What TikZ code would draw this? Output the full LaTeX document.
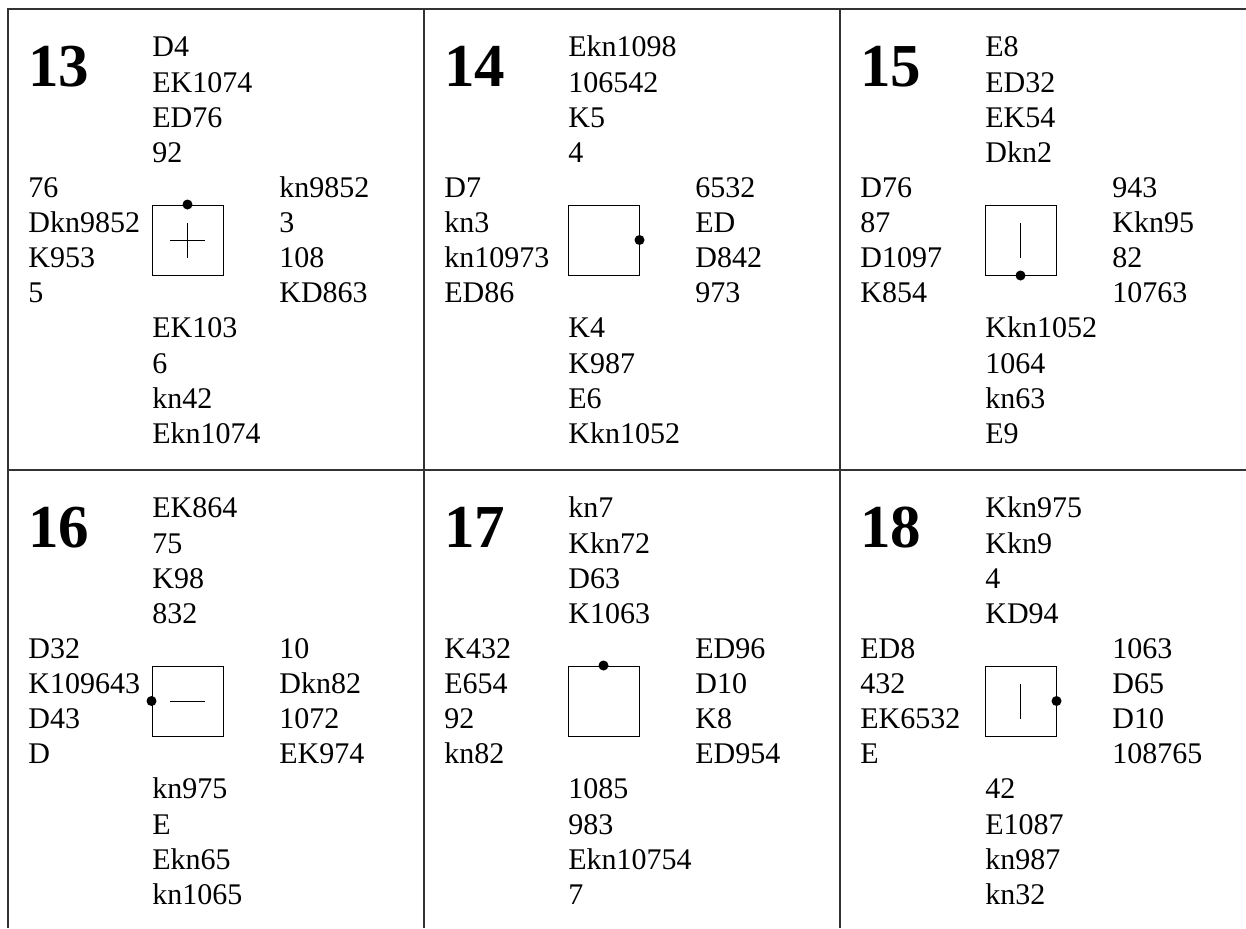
\documentclass[tikz,border=0pt]{standalone}
\usepackage{fontspec}
\setmainfont{Liberation Serif}
\usetikzlibrary{positioning}
\newcommand{\hand}[1]{\begin{tabular}[t]{@{}l@{}}#1\end{tabular}}

\tikzset{
  cards/.style={anchor=base west,inner sep=0pt,font=\fontsize{15pt}{17.65pt}\selectfont},
  dealno/.style={anchor=base west,inner sep=0pt,font=\fontsize{30.5pt}{36pt}\selectfont\bfseries},
  tablebox/.style={draw,line width=0.5pt,minimum width=35.5pt,minimum height=35pt,inner sep=0pt},
  seatdot/.style={circle,fill,inner sep=0pt,minimum size=5pt},
  gridline/.style={line width=0.6pt,black!80},
  trickline/.style={line width=0.5pt}
}

\begin{document}
\begin{tikzpicture}[x=0.5pt,y=-0.5pt]
        \useasboundingbox (0,0) rectangle (1246,928);
        % cell corners
        \coordinate (C13) at (8,9);
        \coordinate (C14) at (424,9);
        \coordinate (C15) at (840,9);
        \coordinate (C16) at (8,470);
        \coordinate (C17) at (424,470);
        \coordinate (C18) at (840,470);
        \draw[gridline] (8,928) -- (C13) -- (1246,9);
        \draw[gridline] (C16) -- (1246,470);
        \draw[gridline] (C14) -- (424,928);
        \draw[gridline] (C15) -- (840,928);

        % 13
        \node[dealno] (D13) at ([shift={+(20,77)}]C13) {13};
        \node[cards] (N13) at ([shift={+(144,47.7)}]C13) {\hand{D4\\EK1074\\ED76\\92}};
        \node[cards] (W13) at ([shift={+(20,188)}]C13) {\hand{76\\Dkn9852\\K953\\5}};
        \node[cards] (E13) at ([shift={+(271,188)}]C13) {\hand{kn9852\\3\\108\\KD863}};
        \node[cards] (S13) at ([shift={+(144,328.7)}]C13) {\hand{EK103\\6\\kn42\\Ekn1074}};
        \node[tablebox] (T13) at ([shift={+(179.5,231)}]C13) {};
        \node[seatdot] (P13) at (T13.north) {};
        \draw[trickline] ([xshift=-8.75pt]T13.center) -- ([xshift=8.75pt]T13.center);
        \draw[trickline] ([yshift=-8.75pt]T13.center) -- ([yshift=8.75pt]T13.center);

        % 14
        \node[dealno] (D14) at ([shift={+(20,77)}]C14) {14};
        \node[cards] (N14) at ([shift={+(144,47.7)}]C14) {\hand{Ekn1098\\106542\\K5\\4}};
        \node[cards] (W14) at ([shift={+(20,188)}]C14) {\hand{D7\\kn3\\kn10973\\ED86}};
        \node[cards] (E14) at ([shift={+(271,188)}]C14) {\hand{6532\\ED\\D842\\973}};
        \node[cards] (S14) at ([shift={+(144,328.7)}]C14) {\hand{K4\\K987\\E6\\Kkn1052}};
        \node[tablebox] (T14) at ([shift={+(179.5,231)}]C14) {};
        \node[seatdot] (P14) at (T14.east) {};

        % 15
        \node[dealno] (D15) at ([shift={+(20,77)}]C15) {15};
        \node[cards] (N15) at ([shift={+(145,47.7)}]C15) {\hand{E8\\ED32\\EK54\\Dkn2}};
        \node[cards] (W15) at ([shift={+(20,188)}]C15) {\hand{D76\\87\\D1097\\K854}};
        \node[cards] (E15) at ([shift={+(272,188)}]C15) {\hand{943\\Kkn95\\82\\10763}};
        \node[cards] (S15) at ([shift={+(145,328.7)}]C15) {\hand{Kkn1052\\1064\\kn63\\E9}};
        \node[tablebox] (T15) at ([shift={+(180.5,231)}]C15) {};
        \node[seatdot] (P15) at (T15.south) {};
        \draw[trickline] ([yshift=-8.75pt]T15.center) -- ([yshift=8.75pt]T15.center);

        % 16
        \node[dealno] (D16) at ([shift={+(20,77)}]C16) {16};
        \node[cards] (N16) at ([shift={+(144,47.7)}]C16) {\hand{EK864\\75\\K98\\832}};
        \node[cards] (W16) at ([shift={+(20,188)}]C16) {\hand{D32\\K109643\\D43\\D}};
        \node[cards] (E16) at ([shift={+(271,188)}]C16) {\hand{10\\Dkn82\\1072\\EK974}};
        \node[cards] (S16) at ([shift={+(144,328.7)}]C16) {\hand{kn975\\E\\Ekn65\\kn1065}};
        \node[tablebox] (T16) at ([shift={+(179.5,231)}]C16) {};
        \node[seatdot] (P16) at (T16.west) {};
        \draw[trickline] ([xshift=-8.75pt]T16.center) -- ([xshift=8.75pt]T16.center);

        % 17
        \node[dealno] (D17) at ([shift={+(20,77)}]C17) {17};
        \node[cards] (N17) at ([shift={+(144,47.7)}]C17) {\hand{kn7\\Kkn72\\D63\\K1063}};
        \node[cards] (W17) at ([shift={+(20,188)}]C17) {\hand{K432\\E654\\92\\kn82}};
        \node[cards] (E17) at ([shift={+(271,188)}]C17) {\hand{ED96\\D10\\K8\\ED954}};
        \node[cards] (S17) at ([shift={+(144,328.7)}]C17) {\hand{1085\\983\\Ekn10754\\7}};
        \node[tablebox] (T17) at ([shift={+(179.5,231)}]C17) {};
        \node[seatdot] (P17) at (T17.north) {};

        % 18
        \node[dealno] (D18) at ([shift={+(20,77)}]C18) {18};
        \node[cards] (N18) at ([shift={+(145,47.7)}]C18) {\hand{Kkn975\\Kkn9\\4\\KD94}};
        \node[cards] (W18) at ([shift={+(20,188)}]C18) {\hand{ED8\\432\\EK6532\\E}};
        \node[cards] (E18) at ([shift={+(272,188)}]C18) {\hand{1063\\D65\\D10\\108765}};
        \node[cards] (S18) at ([shift={+(145,328.7)}]C18) {\hand{42\\E1087\\kn987\\kn32}};
        \node[tablebox] (T18) at ([shift={+(180.5,231)}]C18) {};
        \node[seatdot] (P18) at (T18.east) {};
        \draw[trickline] ([yshift=-8.75pt]T18.center) -- ([yshift=8.75pt]T18.center);
    \end{tikzpicture}
\end{document}
